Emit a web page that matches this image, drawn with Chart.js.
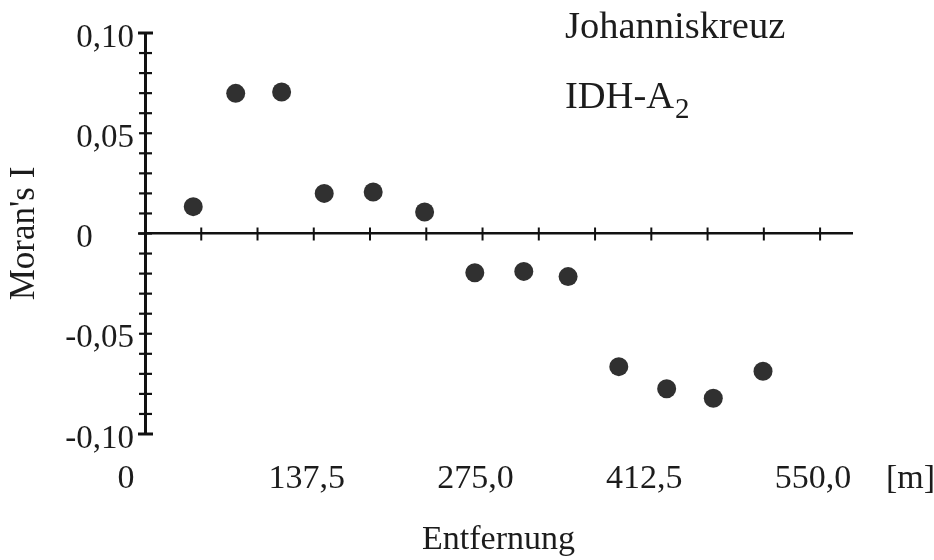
<!DOCTYPE html>
<html><head><meta charset="utf-8">
<script src="https://cdn.jsdelivr.net/npm/chart.js@4.4.1/dist/chart.umd.min.js"></script>
<style>html,body{margin:0;padding:0;background:#fff}#wrap{width:934px;height:560px;position:relative}</style>
</head><body><div id="wrap"><canvas id="c"></canvas></div>
<script>
// ---- data ----
const distances = [39.3, 73.9, 111.3, 146.0, 185.9, 227.8, 268.7, 308.6, 344.7, 386.0, 425.0, 463.0, 503.5];
const moransI   = [0.0134, 0.0699, 0.0706, 0.0200, 0.0207, 0.0107, -0.0196, -0.0189, -0.0215, -0.0664, -0.0774, -0.0822, -0.0687];
const xTickLabelValues = [0, 137.5, 275, 412.5, 550];
const xMinorTickValues = [45.83, 91.67, 137.5, 183.33, 229.17, 275, 320.83, 366.67, 412.5, 458.33, 504.17, 550];
const yTickLabelValues = [-0.10, -0.05, 0, 0.05, 0.10];
const yMinorTickValues = [-0.10, -0.09, -0.08, -0.07, -0.06, -0.05, -0.04, -0.03, -0.02, -0.01, 0, 0.01, 0.02, 0.03, 0.04, 0.05, 0.06, 0.07, 0.08, 0.09, 0.10];
const titleLine1 = 'Johanniskreuz';
const titleLine2 = 'IDH-A';
const titleLine2Sub = '2';
const xAxisTitle = 'Entfernung';
const yAxisTitle = "Moran's I";
const xUnitLabel = '[m]';

const FONT = '"Liberation Serif", "DejaVu Serif", serif';
const INK = '#1c1c1c';

// the zero labels sit further left in the original; trailing spaces shift them
const fmtX = v => v === 0 ? '0\u2002\u2009' : v.toFixed(1).replace('.', ',');
const fmtY = v => Math.abs(v) < 1e-9 ? '0\u2002\u2002 ' : v.toFixed(2).replace('.', ',');

const decor = {
  id: 'decor',
  afterDraw(chart) {
    const {ctx, chartArea, scales} = chart;
    const xs = scales.x, ys = scales.y;
    ctx.save();
    ctx.strokeStyle = '#111';
    ctx.lineCap = 'butt';
    // y-axis crossing ticks
    const x0 = chartArea.left;
    yMinorTickValues.forEach(v => {
      const py = ys.getPixelForValue(v);
      const cap = Math.abs(Math.abs(v) - 0.10) < 1e-9;
      ctx.lineWidth = cap ? 3 : 2.2;
      ctx.beginPath();
      ctx.moveTo(x0 - (cap ? 7 : 6), py);
      ctx.lineTo(x0 + (cap ? 8 : 7), py);
      ctx.stroke();
    });
    // zero line stub left of the y axis
    const y0 = ys.getPixelForValue(0);
    ctx.lineWidth = 2.5;
    ctx.beginPath(); ctx.moveTo(x0 - 7, y0); ctx.lineTo(x0, y0); ctx.stroke();
    // x ticks crossing the zero line
    ctx.lineWidth = 2;
    xMinorTickValues.forEach(v => {
      const px = xs.getPixelForValue(v);
      ctx.beginPath();
      ctx.moveTo(px, y0 - 6);
      ctx.lineTo(px, y0 + 7);
      ctx.stroke();
    });
    // texts
    ctx.fillStyle = INK;
    ctx.textBaseline = 'alphabetic';
    ctx.textAlign = 'left';
    ctx.font = '38.5px ' + FONT;
    ctx.fillText(titleLine1, 565, 38);
    ctx.fillText(titleLine2, 565, 108);
    const w = ctx.measureText(titleLine2).width;
    ctx.font = '29px ' + FONT;
    ctx.fillText(titleLine2Sub, 565 + w + 1, 118);
    ctx.font = '34px ' + FONT;
    ctx.textBaseline = 'middle';
    ctx.fillText(xUnitLabel, 886, 479);
    ctx.restore();
  }
};

new Chart(document.getElementById('c'), {
  type: 'scatter',
  data: {
    datasets: [{
      data: distances.map((d, i) => ({x: d, y: moransI[i]})),
      backgroundColor: '#303030',
      borderColor: '#303030',
      borderWidth: 0,
      pointRadius: 9.5,
      pointHoverRadius: 9.5
    }]
  },
  options: {
    responsive: true,
    maintainAspectRatio: false,
    animation: false,
    layout: {padding: {left: 0, right: 82, top: 33, bottom: 0}},
    plugins: {legend: {display: false}, tooltip: {enabled: false}},
    scales: {
      x: {
        type: 'linear', position: 'bottom', min: 0, max: 576,
        afterBuildTicks: s => { s.ticks = xTickLabelValues.map(v => ({value: v})); },
        afterFit: s => { s.height = 126; },
        grid: {display: false, drawTicks: false},
        border: {display: false},
        ticks: {padding: 25, labelOffset: -7, maxRotation: 0, autoSkip: false,
                color: INK, font: {family: FONT, size: 34}, callback: v => fmtX(v)},
        title: {display: true, text: xAxisTitle, color: INK, font: {family: FONT, size: 34},
                padding: {top: 0, bottom: 0}}
      },
      xz: {
        type: 'linear', axis: 'x', position: {y: 0}, min: 0, max: 576,
        grid: {display: false, drawTicks: false},
        ticks: {display: false},
        border: {display: true, width: 2.5, color: '#111'}
      },
      y: {
        type: 'linear', position: 'left', min: -0.10, max: 0.10,
        afterBuildTicks: s => { s.ticks = yTickLabelValues.map(v => ({value: v})); },
        afterFit: s => { s.width = 145; },
        grid: {display: false, drawTicks: false},
        border: {display: true, width: 3, color: '#111'},
        ticks: {padding: 11, labelOffset: 5, color: INK, font: {family: FONT, size: 33},
                callback: v => fmtY(v)},
        title: {display: true, text: yAxisTitle, color: INK, font: {family: FONT, size: 35},
                padding: {top: 4, bottom: 0}}
      }
    }
  },
  plugins: [decor]
});
</script>
</body></html>
